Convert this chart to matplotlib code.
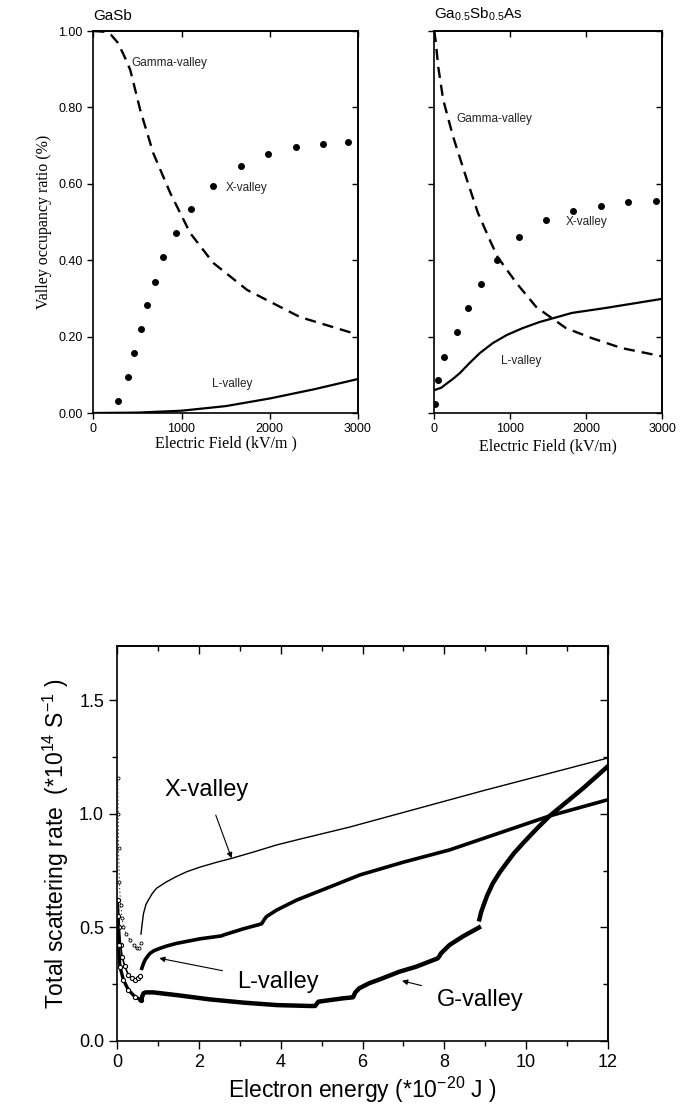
import numpy as np
import matplotlib.pyplot as plt
from matplotlib.ticker import MultipleLocator, NullFormatter

plt.rcParams['font.family'] = ['Liberation Sans', 'DejaVu Sans']
plt.rcParams['mathtext.fontset'] = 'custom'
plt.rcParams['mathtext.rm'] = 'Liberation Sans'
plt.rcParams['mathtext.it'] = 'Liberation Sans:italic'
plt.rcParams['lines.scale_dashes'] = False

# ---- top panels: valley occupancy vs electric field (kV/m) ----
gasb_gamma_f = [0, 130, 200, 272, 340, 419, 532, 680, 872, 1098, 1359, 1744, 2344, 3000]
gasb_gamma_y = [1.0, 0.998, 0.99, 0.971, 0.94, 0.898, 0.793, 0.68, 0.576, 0.471, 0.393, 0.322, 0.251, 0.205]
gasb_x_f = [283, 396, 464, 543, 611, 702, 793, 940, 1110, 1359, 1676, 1982, 2299, 2605, 2888]
gasb_x_y = [0.031, 0.094, 0.157, 0.22, 0.283, 0.343, 0.408, 0.471, 0.534, 0.594, 0.647, 0.678, 0.696, 0.704, 0.709]
gasb_l_f = [0, 500, 1000, 1500, 2000, 2500, 3000]
gasb_l_y = [0.0, 0.001, 0.006, 0.018, 0.038, 0.062, 0.089]

gsa_gamma_f = [0, 20, 52, 117, 248, 430, 574, 730, 834, 1082, 1343, 1734, 2073, 2464, 2907, 3000]
gsa_gamma_y = [1.0, 0.97, 0.906, 0.82, 0.723, 0.61, 0.524, 0.453, 0.408, 0.34, 0.277, 0.222, 0.196, 0.17, 0.152, 0.148]
gsa_x_f = [13, 52, 130, 300, 443, 613, 821, 1108, 1473, 1825, 2190, 2555, 2920]
gsa_x_y = [0.024, 0.086, 0.147, 0.212, 0.275, 0.338, 0.40, 0.461, 0.505, 0.529, 0.542, 0.552, 0.555]
gsa_l_f = [0, 90, 170, 250, 339, 460, 600, 770, 952, 1160, 1382, 1812, 2256, 2972, 3000]
gsa_l_y = [0.06, 0.066, 0.078, 0.09, 0.105, 0.13, 0.157, 0.183, 0.204, 0.222, 0.238, 0.262, 0.275, 0.298, 0.299]

# ---- bottom panel: total scattering rate vs electron energy ----
x_low_e = [0.01, 0.02, 0.03, 0.05, 0.08, 0.12, 0.15, 0.22, 0.31, 0.40, 0.47, 0.53, 0.57]
x_low_r = [1.16, 1.0, 0.85, 0.70, 0.60, 0.54, 0.503, 0.47, 0.444, 0.42, 0.407, 0.41, 0.43]
x_e = [0.58, 0.60, 0.64, 0.70, 0.76, 0.86, 0.96, 1.2, 1.45, 1.7, 2.02, 2.4, 2.8, 3.3, 3.9, 4.5, 5.67, 8.95, 12]
x_r = [0.47, 0.503, 0.56, 0.60, 0.62, 0.65, 0.672, 0.70, 0.724, 0.745, 0.765, 0.785, 0.804, 0.83, 0.863, 0.89, 0.941, 1.102, 1.246]

l_low_e = [0.02, 0.05, 0.08, 0.12, 0.18, 0.27, 0.37, 0.43, 0.50, 0.55]
l_low_r = [0.62, 0.50, 0.42, 0.37, 0.33, 0.29, 0.275, 0.268, 0.275, 0.285]
l_e = [0.60, 0.64, 0.68, 0.74, 0.80, 0.90, 1.04, 1.2, 1.45, 2.02, 2.55, 2.60, 3.08, 3.53, 3.60, 3.65,
       3.9, 4.39, 5.12, 5.94, 7.0, 8.13, 10.58, 12]
l_r = [0.319, 0.34, 0.356, 0.372, 0.385, 0.397, 0.407, 0.417, 0.429, 0.449, 0.462, 0.466, 0.493, 0.515, 0.535, 0.547,
       0.576, 0.62, 0.672, 0.731, 0.787, 0.841, 0.991, 1.062]

g_low_e = [0.01, 0.03, 0.065, 0.15, 0.27, 0.43, 0.58]
g_low_r = [0.55, 0.42, 0.326, 0.268, 0.224, 0.194, 0.179]
g1_e = [0.58, 0.60, 0.64, 0.70, 0.88, 1.45, 2.27, 3.08, 3.9, 4.71, 4.84, 4.92, 5.53, 5.76, 5.78, 5.82,
        5.92, 6.16, 6.49, 6.9, 7.31, 7.84, 7.88, 7.92, 8.13, 8.45, 8.85]
g1_r = [0.179, 0.19, 0.209, 0.213, 0.213, 0.201, 0.182, 0.168, 0.157, 0.153, 0.153, 0.172, 0.187, 0.191, 0.195, 0.212,
        0.231, 0.253, 0.275, 0.304, 0.326, 0.363, 0.372, 0.385, 0.422, 0.459, 0.499]
g2_e = [8.86, 8.90, 8.95, 9.05, 9.19, 9.35, 9.52, 9.7, 9.93, 10.25, 10.58, 11.4, 12]
g2_r = [0.535, 0.565, 0.591, 0.64, 0.694, 0.74, 0.782, 0.825, 0.871, 0.932, 0.991, 1.113, 1.209]


def mirror_ticks(ax, xmaj, ymaj, xmin=None, ymin=None, length=4):
    ax.tick_params(which='major', direction='out', length=length, width=1)
    ax.tick_params(which='minor', direction='out', length=length * 0.55, width=1)
    top = ax.secondary_xaxis('top')
    right = ax.secondary_yaxis('right')
    for sec, axis, loc, mloc in ((top, top.xaxis, xmaj, xmin), (right, right.yaxis, ymaj, ymin)):
        axis.set_ticks(loc)
        if mloc is not None:
            axis.set_ticks(mloc, minor=True)
        axis.set_major_formatter(NullFormatter())
        sec.tick_params(which='major', direction='in', length=length, width=1)
        sec.tick_params(which='minor', direction='in', length=length * 0.55, width=1)
        for s in sec.spines.values():
            s.set_linewidth(1.2)
    return top, right


fig = plt.figure(figsize=(6.83, 11.12), dpi=100)
W, H = 683.0, 1112.0

def place(l, t, r, b):
    return [l / W, 1 - b / H, (r - l) / W, (b - t) / H]

dash = (0, (8, 5))
dot_kw = dict(linestyle='none', marker='o', ms=4.0, color='black')
lab_kw = dict(fontsize=8.5, color='#222222')

# GaSb
ax1 = fig.add_axes(place(93.3, 31, 358, 413))
ax1.plot(gasb_gamma_f, gasb_gamma_y, color='black', lw=1.7, linestyle=dash)
ax1.plot(gasb_x_f, gasb_x_y, **dot_kw)
ax1.plot(gasb_l_f, gasb_l_y, color='black', lw=1.6)
ax1.set_xlim(0, 3000)
ax1.set_ylim(0, 1.0)
ax1.set_xticks([0, 1000, 2000, 3000])
ax1.set_yticks([0, 0.2, 0.4, 0.6, 0.8, 1.0])
ax1.set_yticklabels(['0.00', '0.20', '0.40', '0.60', '0.80', '1.00'])
ax1.tick_params(labelsize=9)
mirror_ticks(ax1, [0, 1000, 2000, 3000], [0, 0.2, 0.4, 0.6, 0.8, 1.0])
ax1.set_ylabel('Valley occupancy ratio (%)', family='Liberation Serif', fontsize=11.5, labelpad=5)
ax1.set_xlabel('Electric Field (kV/m )', family='Liberation Serif', fontsize=11.5, labelpad=0)
ax1.text(0, 1.02, 'GaSb', transform=ax1.transAxes, fontsize=11, ha='left', va='bottom')
ax1.text(430, 0.915, 'Gamma-valley', ha='left', va='center', **lab_kw)
ax1.text(1500, 0.59, 'X-valley', ha='left', va='center', **lab_kw)
ax1.text(1340, 0.075, 'L-valley', ha='left', va='center', **lab_kw)

# Ga0.5Sb0.5As
ax2 = fig.add_axes(place(434.3, 31, 662.3, 413))
ax2.plot(gsa_gamma_f, gsa_gamma_y, color='black', lw=1.7, linestyle=dash)
ax2.plot(gsa_x_f, gsa_x_y, **dot_kw)
ax2.plot(gsa_l_f, gsa_l_y, color='black', lw=1.6)
ax2.set_xlim(0, 3000)
ax2.set_ylim(0, 1.0)
ax2.set_xticks([0, 1000, 2000, 3000])
ax2.set_yticks([0, 0.2, 0.4, 0.6, 0.8, 1.0])
ax2.yaxis.set_major_formatter(NullFormatter())
ax2.tick_params(labelsize=9)
mirror_ticks(ax2, [0, 1000, 2000, 3000], [0, 0.2, 0.4, 0.6, 0.8, 1.0])
ax2.set_xlabel('Electric Field (kV/m)', family='Liberation Serif', fontsize=11.5, labelpad=2)
ax2.text(0, 1.02, r'Ga$_{\mathrm{0.5}}$Sb$_{\mathrm{0.5}}$As', transform=ax2.transAxes,
         fontsize=11, ha='left', va='bottom')
ax2.text(290, 0.77, 'Gamma-valley', ha='left', va='center', **lab_kw)
ax2.text(1730, 0.50, 'X-valley', ha='left', va='center', **lab_kw)
ax2.text(880, 0.135, 'L-valley', ha='left', va='center', **lab_kw)

# Scattering rate
ax3 = fig.add_axes(place(117.3, 646, 607.7, 1040.7))
ax3.plot(x_low_e, x_low_r, color='black', lw=0.6, linestyle=':', marker='o', ms=2.2, mfc='white', mew=0.6)
ax3.plot(x_e, x_r, color='black', lw=1.0)
ax3.plot(l_low_e, l_low_r, color='black', lw=1.2, marker='o', ms=3, mfc='white', mew=0.8)
ax3.plot(l_e, l_r, color='black', lw=2.6)
ax3.plot(g_low_e, g_low_r, color='black', lw=2.4, marker='o', ms=3, mfc='white', mew=0.8)
ax3.plot(g1_e, g1_r, color='black', lw=3.2)
ax3.plot(g2_e, g2_r, color='black', lw=3.2)
ax3.set_xlim(0, 12)
ax3.set_ylim(0, 1.74)
ax3.xaxis.set_major_locator(MultipleLocator(2))
ax3.xaxis.set_minor_locator(MultipleLocator(1))
ax3.yaxis.set_major_locator(MultipleLocator(0.5))
ax3.yaxis.set_minor_locator(MultipleLocator(0.25))
ax3.tick_params(labelsize=13)
mirror_ticks(ax3, np.arange(0, 13, 2), [0, 0.5, 1.0, 1.5], np.arange(1, 13, 2), [0.25, 0.75, 1.25], length=6)
ax3.set_xlabel(r'Electron energy (*10$^{-20}$ J )', fontsize=16.5, labelpad=3)
ax3.set_ylabel(r'Total scattering rate  (*10$^{14}$ S$^{-1}$ )', fontsize=16.5, labelpad=6)

arr = dict(arrowstyle='-|>', color='black', lw=0.8, mutation_scale=8, shrinkA=9)
ax3.annotate('X-valley', xy=(2.82, 0.793), xytext=(2.18, 1.107), fontsize=17,
             ha='center', va='center', arrowprops=arr)
ax3.annotate('L-valley', xy=(0.96, 0.366), xytext=(3.94, 0.26), fontsize=17,
             ha='center', va='center', arrowprops=arr)
ax3.annotate('G-valley', xy=(6.9, 0.267), xytext=(8.87, 0.18), fontsize=17,
             ha='center', va='center', arrowprops=arr)

for ax in (ax1, ax2, ax3):
    for s in ax.spines.values():
        s.set_linewidth(1.2)

plt.savefig('out.png', dpi=100)
